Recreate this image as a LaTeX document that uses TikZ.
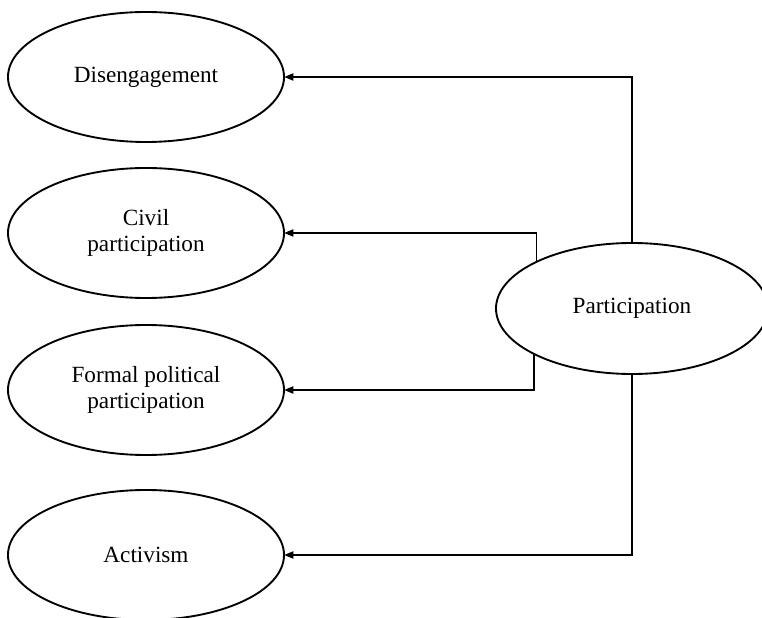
\documentclass[tikz,border=0pt]{standalone}
\usepackage{fontspec}
\setmainfont{Liberation Serif}
\usetikzlibrary{
    arrows.meta,
    positioning,
    shapes.geometric
}
\tikzset{
    % Ellipse styles
    factor ellipse/.style={
        draw=black,
        fill=white,
        ellipse,
        line width=1.6pt,
        inner sep=0pt,
        outer sep=0pt,
        minimum width=8.28cm,
        minimum height=3.9cm,
        align=center,
        font=\fontsize{19.8}{21.5}\selectfont
    },
    % Arrow styles
    link arrow/.style={
        -{Triangle[length=8pt,width=6pt]},
        line width=1.6pt,
        black
    }
}

\begin{document}
\begin{tikzpicture}[x=0.03cm, y=0.03cm]
    \useasboundingbox (0,0) rectangle (762,617);
    \fill[white] (0,0) rectangle (762,617);

    \node[factor ellipse] (diseng) at (146,540) {Disengagement};
    \node[factor ellipse] (civil) at (146,384) {Civil\\participation};
    \node[factor ellipse] (formal) at (146,227) {Formal political\\participation};
    \node[factor ellipse] (activism) at (146,62) {Activism};
    \node[factor ellipse, minimum width=8.16cm, minimum height=3.93cm] (partic) at (632,308.5) {Participation};

    \draw[link arrow] (partic.north) |- (diseng.east);
    \draw[link arrow] (partic.154.6) |- (civil.east);
    \draw[link arrow] (partic.205.4) |- (formal.east);
    \draw[link arrow] (partic.south) |- (activism.east);
\end{tikzpicture}
\end{document}
